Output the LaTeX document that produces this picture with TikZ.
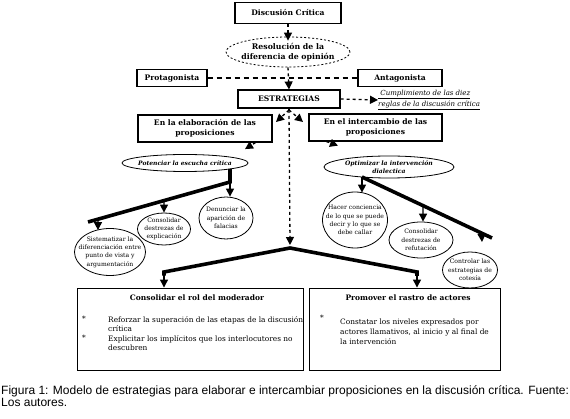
\documentclass[tikz,border=0pt]{standalone}
\usepackage{fontspec}
\setmainfont{DejaVu Serif}
\newfontfamily\capfont{Liberation Sans}
\usetikzlibrary{arrows.meta,shapes.geometric,calc}
\begin{document}
\begin{tikzpicture}[x=1pt,y=-1pt,
  box/.style={draw,line width=1.1pt,rectangle,inner sep=0pt,align=center,
    font=\fontsize{7.6}{10}\selectfont\bfseries},
  oval/.style={draw,line width=0.8pt,ellipse,inner sep=-10pt,align=center,
    font=\fontsize{6.1}{8.3}\selectfont},
  bigbox/.style={draw,line width=0.9pt,rectangle,inner sep=0pt},
  btitle/.style={font=\fontsize{7.5}{9}\selectfont\bfseries},
  btext/.style={font=\fontsize{7.4}{9.6}\selectfont,align=left,inner sep=0pt,anchor=north west},
  dsh/.style={line width=1.3pt,dash pattern=on 3pt off 3pt},
  arr/.style={line width=1.3pt,-{Triangle[width=8pt,length=8pt]}},
  thk/.style={line width=3.6pt,line join=miter},
]
\useasboundingbox (0,0) rectangle (570,419);

% top column
\node[box,minimum width=106pt,minimum height=21pt] (dc) at (288,13) {Discusión Crítica};
\node[oval,dash pattern=on 2pt off 2pt,line width=0.8pt,minimum width=124pt,minimum height=30pt,
  font=\fontsize{7.8}{10}\selectfont\bfseries] (res) at (288,52) {Resolución de la\\diferencia de opinión};
\node[box,minimum width=70pt,minimum height=17pt] (pro) at (172,78) {Protagonista};
\node[box,minimum width=84pt,minimum height=17pt] (ant) at (400,78) {Antagonista};
\node[box,minimum width=102pt,minimum height=18pt] (est) at (289,99) {ESTRATEGIAS};
\node[font=\fontsize{7}{11}\selectfont\itshape,align=left,inner sep=0pt,anchor=west] (cump) at (378,100)
  {\underline{\ Cumplimiento de las diez}\\\underline{reglas de la discusión crítica}};

\draw[dsh,arr] (dc.south) -- ($(res.north)+(0,4)$);
\draw[dsh,arr] (res.south) -- (est.north);
\draw[dsh,dash pattern=on 5pt off 4pt] (pro.east) -- (ant.west);
\draw[dsh,arr] (est.east) -- (cump.west);

% second level
\node[box,minimum width=134pt,minimum height=27pt] (ela) at (205,128.5) {En la elaboración de las\\proposiciones};
\node[box,minimum width=133pt,minimum height=27pt] (inter) at (375.5,127.5) {En el intercambio de las\\proposiciones};

\coordinate (sp) at (289,110);
\coordinate (spl) at (276,122);
\coordinate (spr) at (303,122);
\coordinate (jt) at (290,245);
\coordinate (j) at (290,248);
\draw[dsh] (est.south) -- (sp);
\draw[dsh,arr] (sp) -- (spl);
\draw[dsh,arr] (sp) -- (spr);
\draw[dsh,arr] (sp) -- (jt);

% ellipses level 3
\node[oval,minimum width=126pt,minimum height=17pt,font=\fontsize{6}{7}\selectfont\bfseries\itshape] (pot) at (185,163) {Potenciar la escucha crítica};
\node[oval,minimum width=130pt,minimum height=22pt,font=\fontsize{6.1}{7.5}\selectfont\bfseries\itshape] (opt) at (389,167) {Optimizar la intervención\\dialectica};

\draw[dsh,arr] ($(ela.south east)+(-17,0)$) -- ($(pot.north)+(60,-5)$);
\draw[dsh,arr] ($(inter.south west)+(18,0)$) -- ($(opt.north)+(-51,-10)$);

% leaf ellipses left
\node[oval,minimum width=71pt,minimum height=47pt] (sis) at (110,252) {Sistematizar la\\diferenciación entre\\punto de vista y\\argumentación};
\node[oval,minimum width=53pt,minimum height=32pt] (cex) at (164,229) {Consolidar\\destrezas de\\explicación};
\node[oval,minimum width=54pt,minimum height=42pt] (den) at (226,218) {Denunciar la\\aparición de\\falacias};

% leaf ellipses right
\node[oval,minimum width=65pt,minimum height=56pt] (hac) at (355,220) {Hacer conciencia\\de lo que se puede\\decir y lo que se\\debe callar};
\node[oval,minimum width=64pt,minimum height=36pt] (cref) at (421,240) {Consolidar\\destrezas de\\refutación};
\node[oval,minimum width=55pt,minimum height=36pt] (cot) at (470,270) {Controlar las\\estrategias de\\cotesía};

% left tree
\coordinate (lt0) at (230,169);
\coordinate (lt1) at (230,182);
\coordinate (lt2) at (88,222);
\draw[thk] (lt0) -- (lt1) -- (lt2);
\draw[arr] (lt1) -- (den.north -| lt1);
\draw[arr] ($(lt1)!0.465!(lt2)$) -- (cex.north);
\draw[arr] ($(lt1)!0.93!(lt2)$) -- ($(sis.north)+(-12,2)$);

% right tree
\coordinate (rt0) at (362,177);
\coordinate (rt1) at (492,238);
\coordinate (rte) at (482,242);
\draw[thk] (rt0) -- (rt1);
\draw[arr] (rt0) -- ($(hac.north)+(7,1)$);
\draw[arr] ($(rt0)!0.47!(rt1)$) -- ($(cref.north)+(2,0)$);
\draw[arr] ($(rt0)!0.92!(rt1)$) -- (rte);

% bottom boxes
\node[bigbox,minimum width=226pt,minimum height=82pt] (mod) at (190,329) {};
\node[bigbox,minimum width=191pt,minimum height=82pt] (act) at (404.5,329) {};
\node[btitle] (modt) at (197,298) {Consolidar el rol del moderador};
\node[btitle] (actt) at (408,298) {Promover el rastro de actores};

\node[btext] (mb1) at (82,316) {*};
\node[btext] (mi1) at (108,316) {Reforzar la superación de las etapas de la discusión\\crítica};
\node[btext] (mb2) at (82,335) {*};
\node[btext] (mi2) at (108,335) {Explicitar los implícitos que los interlocutores no\\descubren};
\node[btext] (ab1) at (320,315) {*};
\node[btext] (ai1) at (340,319) {Constatar los niveles expresados por\\actores llamativos, al inicio y al final de\\la intervención};

% bottom tree
\coordinate (bl) at (164,272);
\coordinate (br) at (417,272);
\draw[thk] (bl |- mod.north) ++(0,-12) -- (bl) -- (j) -- (br) -- ++(0,4);
\draw[arr] ($(bl)+(0,2)$) -- (bl |- mod.north);
\draw[arr] ($(br)+(0,2)$) -- (br |- act.north);

% caption
\node[anchor=north west,inner sep=0pt,align=left,font=\capfont\fontsize{12}{12.5}\selectfont] (cap) at (1,385)
  {Figura 1: Modelo de estrategias para elaborar e intercambiar proposiciones en la discusión crítica. Fuente:\\Los autores.};
\end{tikzpicture}
\end{document}
